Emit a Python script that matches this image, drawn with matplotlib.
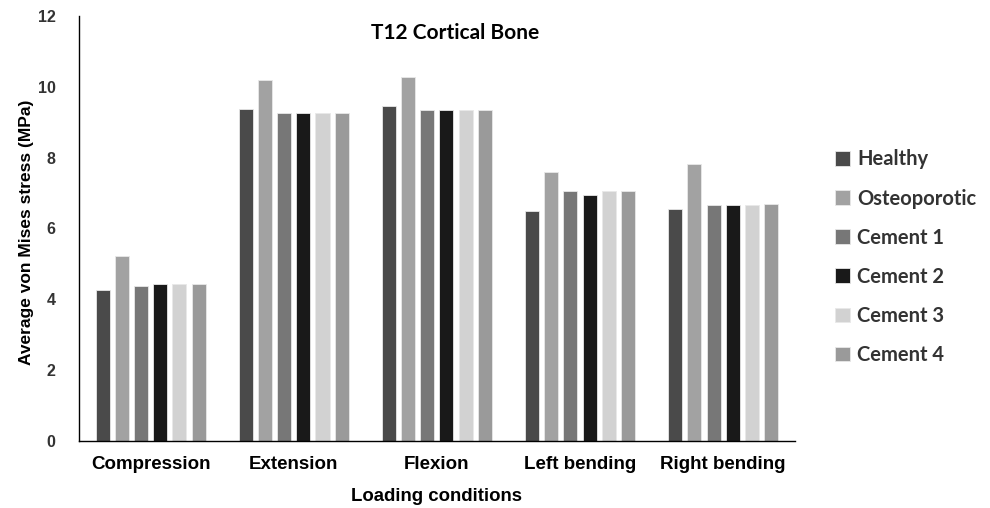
import numpy as np
import matplotlib.pyplot as plt

# data
conditions = ['Compression', 'Extension', 'Flexion', 'Left bending', 'Right bending']
groups = ['Healthy', 'Osteoporotic', 'Cement 1', 'Cement 2', 'Cement 3', 'Cement 4']
healthy = [4.25, 9.37, 9.46, 6.49, 6.56]
osteoporotic = [5.21, 10.20, 10.29, 7.60, 7.81]
cement1 = [4.37, 9.25, 9.34, 7.06, 6.65]
cement2 = [4.42, 9.25, 9.34, 6.95, 6.65]
cement3 = [4.42, 9.25, 9.34, 7.06, 6.65]
cement4 = [4.42, 9.25, 9.34, 7.06, 6.69]
colors = ['#4a4a4a', '#a2a2a2', '#777777', '#191919', '#d2d2d2', '#9a9a9a']

series = [healthy, osteoporotic, cement1, cement2, cement3, cement4]

fig = plt.figure(figsize=(9.9, 5.08), dpi=100)
ax = fig.add_axes([0.0798, 0.132, 0.723, 0.8365])

x = np.arange(len(conditions))
pitch = 0.134
width = 0.098
for i in range(len(series)):
    off = (i - 2.5) * pitch
    ax.bar(x + off, series[i], width, color=colors[i], label=groups[i],
           edgecolor='#e8e8e8', linewidth=0.6)

ax.set_xlim(-0.5, 4.5)
ax.set_ylim(0, 12)
ax.set_yticks(range(0, 13, 2))
ax.set_xticks(x)
ax.set_xticklabels(conditions, fontsize=13.5, fontweight='bold', family='Liberation Sans')
for t in ax.get_yticklabels():
    t.set_fontsize(11.5)
    t.set_fontweight('bold')
    t.set_family('Liberation Sans')
    t.set_color('#333333')
ax.tick_params(axis='both', length=0)
ax.tick_params(axis='y', pad=17)
ax.tick_params(axis='x', pad=11)

ax.spines['top'].set_visible(False)
ax.spines['right'].set_visible(False)
ax.spines['left'].set_linewidth(1.0)
ax.spines['bottom'].set_linewidth(1.0)

ax.set_ylabel('Average von Mises stress (MPa)', fontsize=12.5, fontweight='bold',
              family='Liberation Sans')
ax.yaxis.set_label_coords(-0.0625, 0.49)
ax.set_xlabel('Loading conditions', fontsize=13.4, fontweight='bold',
              family='Liberation Sans', labelpad=11)

fig.text(0.46, 0.935, 'T12 Cortical Bone', ha='center', va='center',
         fontsize=15, fontweight='bold', family='Lato')

leg = ax.legend(loc='upper left', bbox_to_anchor=(1.045, 0.705), frameon=False,
                prop={'family': 'Lato', 'weight': 'bold', 'size': 14.5},
                handlelength=0.75, handleheight=0.75, handletextpad=0.35,
                labelspacing=0.95, borderaxespad=0)
for t in leg.get_texts():
    t.set_color('#333333')

fig.savefig('out.png', dpi=100)
